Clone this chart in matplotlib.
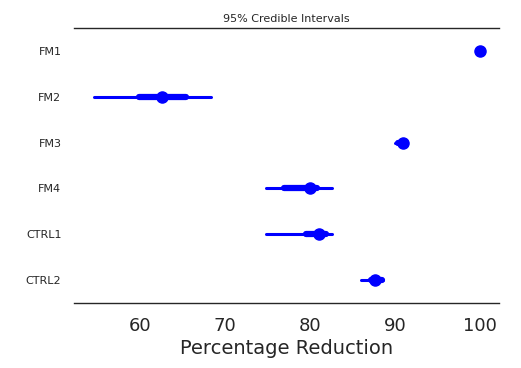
import matplotlib
matplotlib.use('Agg')
import matplotlib.pyplot as plt

# Posterior summaries
labels = ['FM1', 'FM2', 'FM3', 'FM4', 'CTRL1', 'CTRL2']
medians = [100.0, 62.6, 90.9, 80.0, 81.0, 87.6]
hpd95_lo = [99.9, 54.5, 89.9, 74.8, 74.8, 86.0]
hpd95_hi = [100.0, 68.3, 91.2, 82.5, 82.5, 88.5]
iqr_lo = [99.95, 59.8, 90.3, 76.9, 79.5, 87.1]
iqr_hi = [100.0, 65.4, 91.3, 80.8, 81.8, 88.4]

text_color = '#262626'
plt.rcParams['font.family'] = 'DejaVu Sans'

fig = plt.figure(figsize=(5.21, 3.68), dpi=100)
ax = fig.add_axes([0.142, 0.177, 0.816, 0.747])

ypos = list(range(len(labels)))[::-1]
for y, m, lo, hi, qlo, qhi in zip(ypos, medians, hpd95_lo, hpd95_hi, iqr_lo, iqr_hi):
    ax.plot([lo, hi], [y, y], color='blue', lw=2.2, solid_capstyle='round')
    ax.plot([qlo, qhi], [y, y], color='blue', lw=4.5, solid_capstyle='round')
    ax.plot(m, y, 'o', color='blue', markersize=8)

ax.set_xlim(52.2, 102.2)
ax.set_ylim(-0.5, 5.5)
ax.set_yticks(ypos)
ax.set_yticklabels(labels, fontsize=8, color=text_color)
ax.set_xticks([60, 70, 80, 90, 100])
ax.tick_params(axis='x', labelsize=13, colors=text_color, length=0, pad=10)
ax.tick_params(axis='y', length=0, pad=9)
ax.set_xlabel('Percentage Reduction', fontsize=14, color=text_color, labelpad=3)
ax.set_title('95% Credible Intervals', fontsize=8, color=text_color, pad=4)

for side in ['left', 'right']:
    ax.spines[side].set_visible(False)
for side in ['top', 'bottom']:
    ax.spines[side].set_color(text_color)
    ax.spines[side].set_linewidth(1.0)

fig.savefig('out.png', dpi=100)
